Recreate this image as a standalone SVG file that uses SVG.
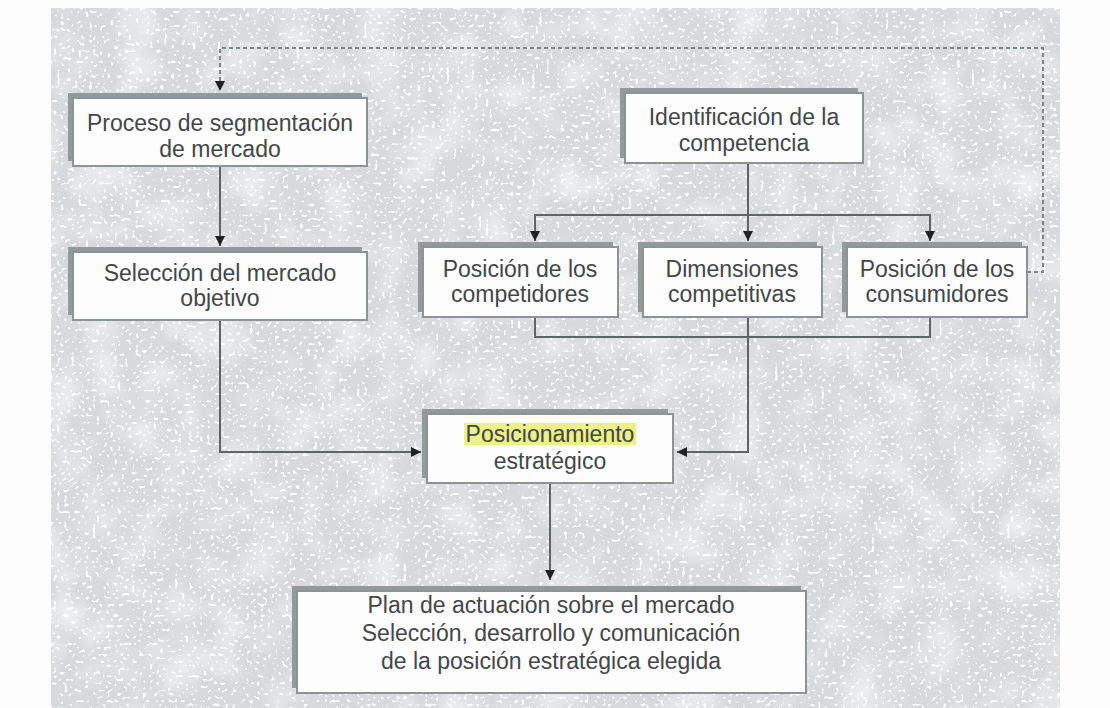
<svg xmlns="http://www.w3.org/2000/svg" width="1110" height="708" viewBox="0 0 1110 708">
  <style>
    .shadow { fill: #939a9b; }
    .box { fill: #fdfdfd; stroke: #8d9494; stroke-width: 2; }
    .label { font-family: "Liberation Sans", Arial, sans-serif; font-size: 23px; fill: #434748; text-anchor: middle; }
    .wire { fill: none; stroke: #5e6566; stroke-width: 2; }
    .dash { fill: none; stroke: #7d8485; stroke-width: 2; stroke-dasharray: 4 3; }
  </style>
  <defs>
    <marker id="arrow" viewBox="0 0 10 10" refX="10" refY="5" markerWidth="10" markerHeight="10" markerUnits="userSpaceOnUse" orient="auto">
      <path d="M0,0 L10,5 L0,10 Z" fill="#1f2222"/>
    </marker>
    <!-- fine white speckle over the grey panel -->
    <filter id="grain" x="0" y="0" width="100%" height="100%">
      <feTurbulence type="fractalNoise" baseFrequency="0.28" numOctaves="1" seed="11" result="n"/>
      <feColorMatrix in="n" type="matrix" values="0 0 0 0 1  0 0 0 0 1  0 0 0 0 1  -12 0 0 0 4.7"/>
    </filter>
    <!-- soft large-scale variation of the panel tone -->
    <filter id="mottle" x="0" y="0" width="100%" height="100%">
      <feTurbulence type="fractalNoise" baseFrequency="0.025" numOctaves="2" seed="4" result="m"/>
      <feColorMatrix in="m" type="matrix" values="0 0 0 0 1  0 0 0 0 1  0 0 0 0 1  1.2 0 0 0 -0.5"/>
    </filter>
  </defs>

  <!-- page and textured panel -->
  <rect x="0" y="0" width="1110" height="708" fill="#fdfdfd"/>
  <rect x="51" y="8" width="1009" height="700" fill="#d7dadc"/>
  <rect x="51" y="8" width="1009" height="700" filter="url(#mottle)"/>
  <rect x="51" y="8" width="1009" height="700" filter="url(#grain)"/>

  <!-- connectors -->
  <g id="connectors">
    <path class="dash" d="M1027,272 H1043 V48 H220 V91" marker-end="url(#arrow)"/>
    <path class="wire" d="M220,166 V246" marker-end="url(#arrow)"/>
    <path class="wire" d="M748,163 V215"/>
    <path class="wire" d="M748,215 H535 V241" marker-end="url(#arrow)"/>
    <path class="wire" d="M748,215 V241" marker-end="url(#arrow)"/>
    <path class="wire" d="M748,215 H930 V241" marker-end="url(#arrow)"/>
    <path class="wire" d="M535,317 V337 H930 V317"/>
    <path class="wire" d="M748,317 V452 H677" marker-end="url(#arrow)"/>
    <path class="wire" d="M220,320 V452 H421" marker-end="url(#arrow)"/>
    <path class="wire" d="M550,483 V580" marker-end="url(#arrow)"/>
  </g>

  <g id="segmentacion">
    <rect class="shadow" x="68" y="93" width="294" height="68"/>
    <rect class="box" x="73" y="98" width="294" height="68"/>
    <text class="label" x="220" y="131">Proceso de segmentación</text>
    <text class="label" x="220" y="157">de mercado</text>
  </g>

  <g id="seleccion">
    <rect class="shadow" x="68" y="247" width="294" height="68"/>
    <rect class="box" x="73" y="252" width="294" height="68"/>
    <text class="label" x="220" y="281">Selección del mercado</text>
    <text class="label" x="220" y="306">objetivo</text>
  </g>

  <g id="competencia">
    <rect class="shadow" x="620" y="88" width="238" height="70"/>
    <rect class="box" x="625" y="93" width="238" height="70"/>
    <text class="label" x="744" y="125">Identificación de la</text>
    <text class="label" x="744" y="151">competencia</text>
  </g>

  <g id="competidores">
    <rect class="shadow" x="418" y="242" width="195" height="70"/>
    <rect class="box" x="423" y="247" width="195" height="70"/>
    <text class="label" x="520" y="277">Posición de los</text>
    <text class="label" x="520" y="302">competidores</text>
  </g>

  <g id="dimensiones">
    <rect class="shadow" x="638" y="242" width="179" height="70"/>
    <rect class="box" x="643" y="247" width="179" height="70"/>
    <text class="label" x="732" y="277">Dimensiones</text>
    <text class="label" x="732" y="302">competitivas</text>
  </g>

  <g id="consumidores">
    <rect class="shadow" x="842" y="242" width="180" height="70"/>
    <rect class="box" x="847" y="247" width="180" height="70"/>
    <text class="label" x="937" y="277">Posición de los</text>
    <text class="label" x="937" y="302">consumidores</text>
  </g>

  <g id="posicionamiento">
    <rect class="shadow" x="422" y="409" width="246" height="69"/>
    <rect class="box" x="427" y="414" width="246" height="69"/>
    <rect x="464" y="423" width="172" height="22" fill="#ecf08a"/>
    <text class="label" x="550" y="442">Posicionamiento</text>
    <text class="label" x="550" y="469">estratégico</text>
  </g>

  <g id="plan">
    <rect class="shadow" x="292" y="586" width="509" height="102"/>
    <rect class="box" x="297" y="591" width="509" height="102"/>
    <text class="label" x="551" y="613">Plan de actuación sobre el mercado</text>
    <text class="label" x="551" y="641">Selección, desarrollo y comunicación</text>
    <text class="label" x="551" y="669">de la posición estratégica elegida</text>
  </g>
</svg>
